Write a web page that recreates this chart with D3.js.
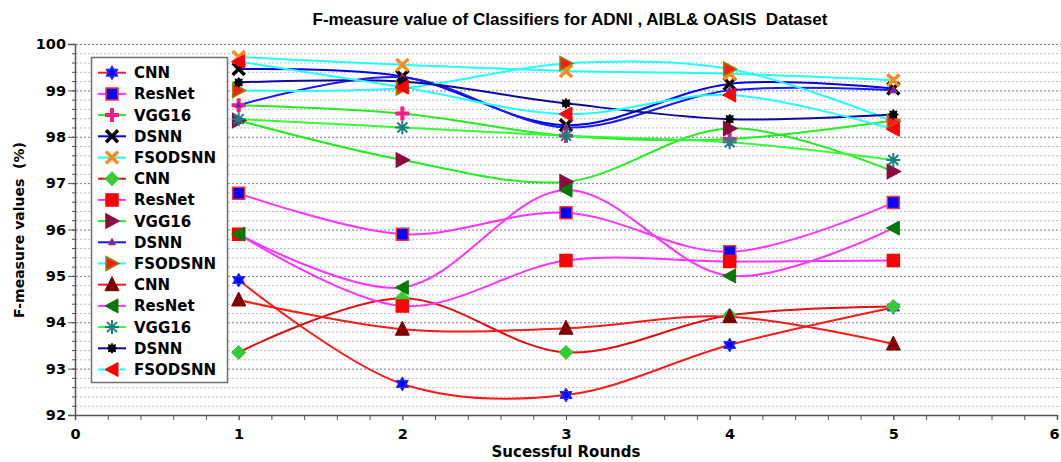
<!DOCTYPE html>
<html>
<head>
<meta charset="utf-8">
<title>F-measure value of Classifiers</title>
<script src="https://d3js.org/d3.v7.min.js"></script>
<style>
  body, html { margin: 0; padding: 0; background: #fff; }
  svg { display: block; }
  text { white-space: pre; }
  .lbl { font-family: "DejaVu Sans", Verdana, sans-serif; font-weight: bold; fill: #000; }
</style>
</head>
<body>
<svg width="1061" height="462"></svg>
<script>
// rounds on the x axis
const rounds = [1, 2, 3, 4, 5];
const xTicks = [0, 1, 2, 3, 4, 5, 6];
const yTicks = [92, 93, 94, 95, 96, 97, 98, 99, 100];

// first group (legend entries 1-5)
const cnnA     = [94.91, 92.67, 92.43, 93.51, 94.32];
const resnetA  = [96.78, 95.90, 96.36, 95.52, 96.58];
const vggA     = [98.68, 98.50, 98.02, 97.95, 98.35];
const dsnnA    = [99.46, 99.30, 98.25, 99.14, 99.04];
const fsodA    = [99.72, 99.55, 99.42, 99.36, 99.22];
// second group
const cnnB     = [93.35, 94.52, 93.35, 94.15, 94.34];
const resnetB  = [95.90, 94.35, 95.33, 95.31, 95.33];
const vggB     = [98.35, 97.50, 97.03, 98.18, 97.25];
const dsnnB    = [98.68, 99.28, 98.20, 99.00, 99.00];
const fsodB    = [99.00, 99.05, 99.58, 99.46, 98.33];
// third group
const cnnC     = [94.48, 93.85, 93.87, 94.12, 93.53];
const resnetC  = [95.90, 94.75, 96.85, 95.00, 96.03];
const vggC     = [98.38, 98.20, 98.02, 97.88, 97.50];
const dsnnC    = [99.17, 99.19, 98.72, 98.38, 98.48];
const fsodC    = [99.62, 99.07, 98.49, 98.90, 98.16];

const names = ["CNN", "ResNet", "VGG16", "DSNN", "FSODSNN",
               "CNN", "ResNet", "VGG16", "DSNN", "FSODSNN",
               "CNN", "ResNet", "VGG16", "DSNN", "FSODSNN"];
const values = [cnnA, resnetA, vggA, dsnnA, fsodA,
                cnnB, resnetB, vggB, dsnnB, fsodB,
                cnnC, resnetC, vggC, dsnnC, fsodC];

// line colour, marker type, marker fill, marker stroke
const styles = [
  { line: "#ff1a1a", m: "star6",  fill: "#0000ff", stroke: "#3030ff" },
  { line: "#ff33ff", m: "square", fill: "#0000ff", stroke: "#ff3030" },
  { line: "#22ee22", m: "plus",   fill: "none",    stroke: "#ff1a8c" },
  { line: "#0000ee", m: "cross",  fill: "none",    stroke: "#000000" },
  { line: "#22ffff", m: "cross",  fill: "none",    stroke: "#ff8c1a" },
  { line: "#e01010", m: "diamond",fill: "#33cc33", stroke: "#33cc33" },
  { line: "#ff33ff", m: "square", fill: "#ff0000", stroke: "#ff0000" },
  { line: "#22ee22", m: "right",  fill: "#8b0a40", stroke: "#8b0a40" },
  { line: "#1a1aff", m: "small",  fill: "#3030ff", stroke: "#ff2020" },
  { line: "#22ffff", m: "right",  fill: "#ff1a1a", stroke: "#8a8a00" },
  { line: "#ff1a1a", m: "up",     fill: "#800000", stroke: "#800000" },
  { line: "#ff33ff", m: "left",   fill: "#007a00", stroke: "#007a00" },
  { line: "#33ff33", m: "aster",  fill: "none",    stroke: "#1a8080" },
  { line: "#0a0aa0", m: "hex",    fill: "#000000", stroke: "#000000" },
  { line: "#22ffff", m: "left",   fill: "#ff0000", stroke: "#ff0000" }
];

function markerPath(type) {
  switch (type) {
    case "star6": {
      const r = 7;
      const t = a => [r * Math.cos(a), r * Math.sin(a)];
      const up = [-90, 30, 150].map(d => t(d * Math.PI / 180));
      const dn = [90, 210, 330].map(d => t(d * Math.PI / 180));
      return "M" + up.join("L") + "Z M" + dn.join("L") + "Z";
    }
    case "square": return "M-6,-6H6V6H-6Z";
    case "plus": return "M-7,0H7M0,-7V7";
    case "cross": return "M-6,-6L6,6M-6,6L6,-6";
    case "diamond": return "M0,-7L7,0L0,7L-7,0Z";
    case "right": return "M7,0L-6,-7L-6,7Z";
    case "left": return "M-7,0L6,-7L6,7Z";
    case "up": return "M0,-8L7,6L-7,6Z";
    case "small": return "M0,-4L3.5,2.5L-3.5,2.5Z";
    case "aster": return "M-7,0H7M0,-7V7M-5,-5L5,5M-5,5L5,-5";
    case "hex": {
      // small 8-point blob
      const pts = d3.range(16).map(i => {
        const a = (i * 22.5 - 90) * Math.PI / 180;
        const r = i % 2 ? 3.2 : 5;
        return [r * Math.cos(a), r * Math.sin(a)];
      });
      return "M" + pts.join("L") + "Z";
    }
  }
}

function strokeWidth(type) {
  if (type === "plus") return 4;
  if (type === "cross") return 3.5;
  if (type === "aster") return 2;
  if (type === "right" || type === "square") return 1.5;
  return 1;
}

const svg = d3.select("svg");
const x = d3.scaleLinear().domain([0, 6]).range([75, 1057]);
const y = d3.scaleLinear().domain([92, 100]).range([415, 44]);

// title
svg.append("text")
  .attr("x", 570).attr("y", 25)
  .attr("text-anchor", "middle")
  .attr("textLength", 515)
  .attr("lengthAdjust", "spacingAndGlyphs")
  .style("font-family", "'Liberation Sans', Arial, sans-serif")
  .style("font-weight", "bold")
  .style("font-size", "17px")
  .text("F-measure value of Classifiers for ADNI , AIBL& OASIS  Dataset");

// gridlines every 0.2
const gridVals = d3.range(0, 41).map(i => 92 + i * 0.2);
svg.append("g").selectAll("line")
  .data(gridVals.slice(1))
  .join("line")
  .attr("x1", 76).attr("x2", 1061)
  .attr("y1", d => y(d) + 0.5).attr("y2", d => y(d) + 0.5)
  .attr("stroke", d => Math.abs(d - Math.round(d)) < 1e-6 ? "#7878a0" : "#bdbdbd")
  .attr("stroke-width", 1)
  .attr("stroke-dasharray", "2,2");

// axes
const yAxis = d3.axisLeft(y).tickValues(yTicks).tickSize(7).tickFormat(d3.format("d"));
const yMinor = d3.axisLeft(y).tickValues(gridVals).tickSize(3).tickFormat("");
const xAxis = d3.axisBottom(x).tickValues(xTicks).tickSize(5).tickFormat(d3.format("d"));
const xMinor = d3.axisBottom(x).tickValues(d3.range(0, 31).map(i => i * 0.2)).tickSize(5).tickFormat("");

const gy = svg.append("g").attr("transform", "translate(75,0)").call(yAxis);
svg.append("g").attr("transform", "translate(75,0)").call(yMinor).select(".domain").remove();
const gx = svg.append("g").attr("transform", "translate(0,415)").call(xAxis);
svg.append("g").attr("transform", "translate(0,415)").call(xMinor).select(".domain").remove();

svg.selectAll(".domain").attr("stroke", "#555").attr("stroke-width", 1.5);
svg.selectAll(".tick line").attr("stroke", "#555");
gy.selectAll("text").attr("class", "lbl").style("font-size", "14.5px").attr("x", -9);
gx.selectAll("text").attr("class", "lbl").style("font-size", "14.5px").attr("dy", "1.1em");
// last tick label sits on the right edge: keep it inside the picture
gx.selectAll("text").filter(d => d === 6).attr("text-anchor", "end").attr("x", 2);

// axis titles
svg.append("text").attr("class", "lbl")
  .attr("transform", "translate(24,230) rotate(-90)")
  .attr("text-anchor", "middle")
  .style("font-size", "14px")
  .text("F-measure values  (%)");
svg.append("text").attr("class", "lbl")
  .attr("x", 566).attr("y", 457)
  .attr("text-anchor", "middle")
  .style("font-size", "15px")
  .text("Sucessful Rounds");

// series
const series = names.map((n, i) => ({ name: n, vals: values[i], st: styles[i] }));
const line = d3.line()
  .x((d, i) => x(rounds[i]))
  .y(d => y(d))
  .curve(d3.curveCatmullRom.alpha(0.5));

svg.append("g").selectAll("path")
  .data(series)
  .join("path")
  .attr("d", d => line(d.vals))
  .attr("fill", "none")
  .attr("stroke", d => d.st.line)
  .attr("stroke-width", 2);

function drawMarker(g, st, cx, cy) {
  g.append("path")
    .attr("d", markerPath(st.m))
    .attr("transform", `translate(${cx},${cy})`)
    .attr("fill", st.fill)
    .attr("stroke", st.stroke)
    .attr("stroke-width", strokeWidth(st.m));
}

const mg = svg.append("g");
series.forEach(s => {
  s.vals.forEach((v, i) => drawMarker(mg, s.st, x(rounds[i]), y(v)));
});

// legend
const leg = svg.append("g");
leg.append("rect")
  .attr("x", 91.5).attr("y", 57.5)
  .attr("width", 136).attr("height", 325)
  .attr("fill", "#fff")
  .attr("stroke", "#707070")
  .attr("stroke-width", 1.5);
series.forEach((s, i) => {
  const ly = 72.7 + i * 21.2;
  leg.append("line")
    .attr("x1", 98).attr("x2", 126)
    .attr("y1", ly).attr("y2", ly)
    .attr("stroke", s.st.line).attr("stroke-width", 2);
  drawMarker(leg, s.st, 112, ly);
  leg.append("text").attr("class", "lbl")
    .attr("x", 134).attr("y", ly + 5.5)
    .style("font-size", "15px")
    .text(s.name);
});
</script>
</body>
</html>
